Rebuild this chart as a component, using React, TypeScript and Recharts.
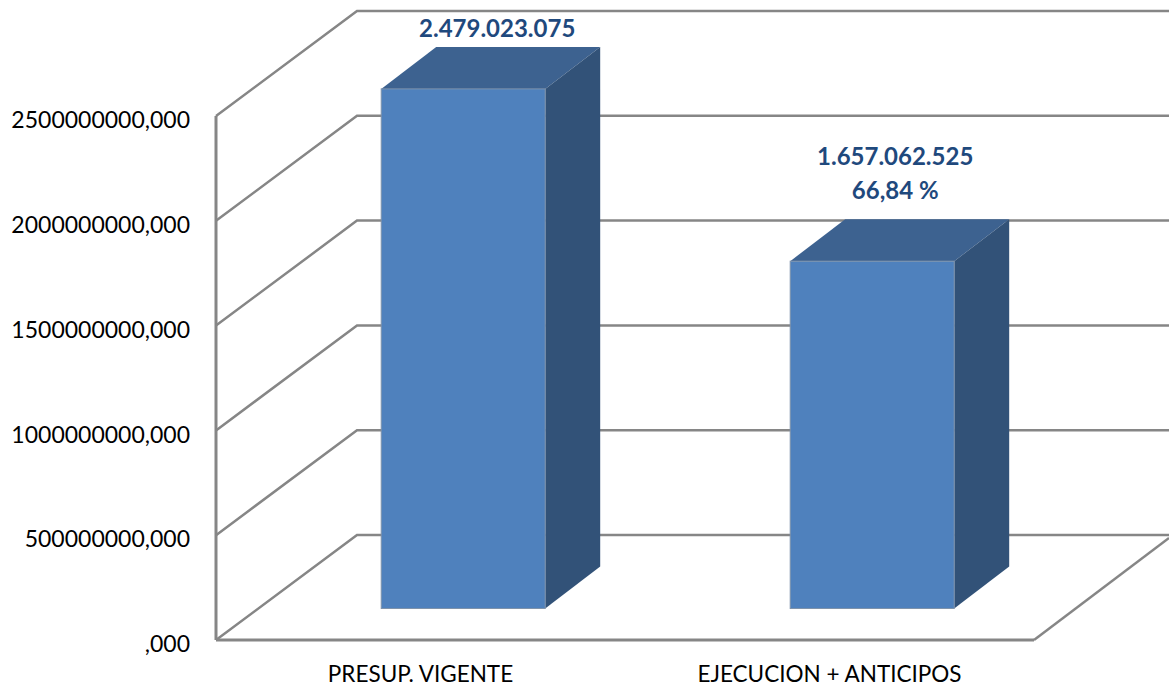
import { Bar, CartesianGrid, ComposedChart, LabelList, XAxis, YAxis } from 'recharts';

const categories = ['PRESUP. VIGENTE', 'EJECUCION + ANTICIPOS'];
const amounts = [2479023075, 1657062525];
const barNotes = [['2.479.023.075'], ['1.657.062.525', '66,84 %']];
const yTicks = [0, 500000000, 1000000000, 1500000000, 2000000000, 2500000000];

const rows = categories.map((name, i) => ({ name, amount: amounts[i] }));

const FONT = 'Lato, "Open Sans", sans-serif';
const LINE = '#868686';
const WIDTH = 1169;
const HEIGHT = 686;
// depth of the fake 3D box: walls and bars
const WALL_DX = 141;
const WALL_DY = 105;
const BAR_SHIFT_X = 42.5;
const BAR_SHIFT_Y = 31.5;
const BAR_DX = 55;
const BAR_DY = 42;
// where the value labels sit relative to the bar's front top centre
const NOTE_OFFSET = [
  { dx: 34, dy: -83 },
  { dx: 23, dy: -128 },
];

const WallLine = (props: any) => {
  const { x1, y1, y2 } = props;
  const y = y1 ?? y2;
  const isFloor = y > 600;
  return (
    <g fill="none" stroke={LINE} strokeWidth={2.5}>
      <polyline points={`${x1},${y} ${x1 + WALL_DX},${y - WALL_DY} ${WIDTH},${y - WALL_DY}`} />
      {isFloor && <line x1={1034} y1={y} x2={WIDTH} y2={y - 102} />}
    </g>
  );
};

const Box = (props: any) => {
  const x = props.x + BAR_SHIFT_X;
  const y = props.y - BAR_SHIFT_Y;
  const w = props.width;
  const h = props.height;
  return (
    <g>
      <path d={`M${x},${y} l${BAR_DX},${-BAR_DY} h${w} l${-BAR_DX},${BAR_DY} z`} fill="#3d6290" />
      <path
        d={`M${x + w},${y} l${BAR_DX},${-BAR_DY} v${h} l${-BAR_DX},${BAR_DY} z`}
        fill="#325278"
      />
      <rect x={x} y={y} width={w} height={h} fill="#4f81bd" stroke="#7f93ab" strokeWidth={1} />
    </g>
  );
};

const Note = (props: any) => {
  const { x, y, width, index } = props;
  const { dx, dy } = NOTE_OFFSET[index];
  return (
    <text
      textAnchor="middle"
      fontFamily={FONT}
      fontSize={24}
      fontWeight={700}
      fill="#1f497d"
    >
      {barNotes[index].map((line, i) => (
        <tspan key={line} x={x + BAR_SHIFT_X + width / 2 + dx} y={y + dy + i * 34}>
          {line}
        </tspan>
      ))}
    </text>
  );
};

export default function App() {
  return (
    <div style={{ position: 'absolute', left: 0, top: 0, width: WIDTH, height: HEIGHT, background: '#fff' }}>
      <ComposedChart
        width={WIDTH}
        height={HEIGHT}
        data={rows}
        barCategoryGap="30%"
        margin={{ top: 116, right: 135, left: 0, bottom: 0 }}
      >
        <CartesianGrid vertical={false} horizontal={(p: any) => <WallLine key={p.index} {...p} />} />
        <XAxis
          dataKey="name"
          height={46}
          tickLine={false}
          tickMargin={20}
          axisLine={{ stroke: LINE, strokeWidth: 3 }}
          tick={{ fill: '#000', fontSize: 22.5, fontFamily: FONT }}
          interval={0}
        />
        <YAxis
          width={216}
          domain={[0, 2500000000]}
          ticks={yTicks}
          tickFormatter={(v: number) => (v === 0 ? ',000' : `${v},000`)}
          tickLine={false}
          tickMargin={20}
          axisLine={{ stroke: LINE, strokeWidth: 3 }}
          tick={{ fill: '#000', fontSize: 23, fontFamily: FONT, dy: 4 }}
          interval={0}
        />
        <Bar dataKey="amount" shape={Box} isAnimationActive={false}>
          <LabelList dataKey="amount" content={Note} />
        </Bar>
      </ComposedChart>
    </div>
  );
}
